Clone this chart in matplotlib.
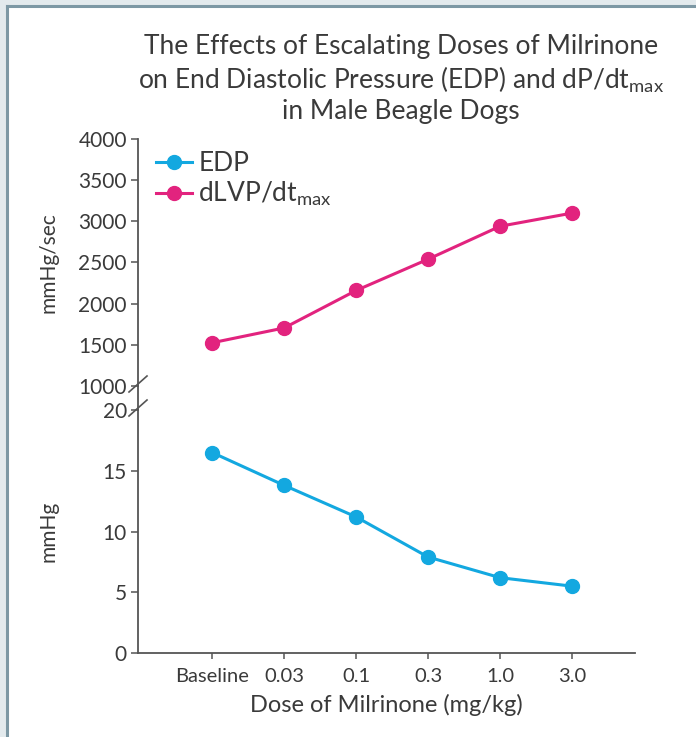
import matplotlib.pyplot as plt
from matplotlib.lines import Line2D
from matplotlib.patches import Rectangle

plt.rcParams['font.family'] = ['Lato', 'DejaVu Sans']
plt.rcParams['mathtext.fontset'] = 'custom'
plt.rcParams['mathtext.rm'] = 'Lato'

doses = ["Baseline", "0.03", "0.1", "0.3", "1.0", "3.0"]
edp = [16.5, 13.8, 11.2, 7.9, 6.2, 5.5]
dlvp = [1525, 1705, 2160, 2540, 2940, 3100]
top_ticks = [1000, 1500, 2000, 2500, 3000, 3500, 4000]
bottom_ticks = [0, 5, 10, 15, 20]

edp_color = "#13a8e0"
dlvp_color = "#e2237e"
text_color = "#3a3a3a"
axis_color = "#555555"

W, H = 696, 737
fig = plt.figure(figsize=(W / 100, H / 100), dpi=100)
fig.patch.set_facecolor("white")

# frame of the panel: grey band + blue-grey rule on top and left
fig.add_artist(Rectangle((0, 1 - 5 / H), 1, 5 / H, transform=fig.transFigure,
                         facecolor="#e3eaed", edgecolor="none"))
fig.add_artist(Rectangle((0, 0), 6 / W, 1, transform=fig.transFigure,
                         facecolor="#e3eaed", edgecolor="none"))
fig.add_artist(Line2D([6.5 / W, 1], [1 - 6 / H, 1 - 6 / H], transform=fig.transFigure,
                      color="#7d98a4", lw=2.2))
fig.add_artist(Line2D([7 / W, 7 / W], [0, 1 - 6 / H], transform=fig.transFigure,
                      color="#7d98a4", lw=2.2))

left = 138 / W
width = 497 / W
ax_top = fig.add_axes([left, 1 - 386 / H, width, 247 / H])
ax_bot = fig.add_axes([left, 1 - 653 / H, width, 243 / H])

x = list(range(len(doses)))
xlim = (-1.03, 5.875)

for ax in (ax_top, ax_bot):
    ax.set_facecolor("none")
    ax.set_xlim(*xlim)
    for s in ("top", "right"):
        ax.spines[s].set_visible(False)
    ax.spines["left"].set_color(axis_color)
    ax.spines["left"].set_linewidth(1.3)
    ax.tick_params(axis="y", direction="out", length=5, width=1.1,
                   colors=axis_color, labelcolor=text_color, labelsize=15, pad=3)

ax_top.spines["bottom"].set_visible(False)
ax_top.set_xticks([])
ax_top.set_ylim(1000, 4000)
ax_top.set_yticks(top_ticks)

ax_bot.set_ylim(0, 20)
ax_bot.set_yticks(bottom_ticks)
ax_bot.spines["bottom"].set_color(axis_color)
ax_bot.spines["bottom"].set_linewidth(1.3)
ax_bot.set_xticks(x)
ax_bot.set_xticklabels(doses)
ax_bot.tick_params(axis="x", direction="out", length=4, width=1.1,
                   colors=axis_color, labelcolor=text_color, labelsize=14.5, pad=7)

ax_top.plot(x, dlvp, color=dlvp_color, lw=2.2, marker="o", ms=10, clip_on=False)
ax_bot.plot(x, edp, color=edp_color, lw=2.2, marker="o", ms=10, clip_on=False)

ax_top.set_ylabel("mmHg/sec", fontsize=15, color=text_color)
ax_bot.set_ylabel("mmHg", fontsize=15, color=text_color)
ax_top.yaxis.set_label_coords(-0.16, 0.5)
ax_bot.yaxis.set_label_coords(-0.16, 0.5)
ax_bot.set_xlabel("Dose of Milrinone (mg/kg)", fontsize=17, color=text_color, labelpad=6)

# legend
handles = [Line2D([], [], color=edp_color, lw=2.2, marker="o", ms=10),
           Line2D([], [], color=dlvp_color, lw=2.2, marker="o", ms=10)]
ax_top.legend(handles, ["EDP", r"dLVP/dt$_\mathregular{max}$"], loc="upper left",
              bbox_to_anchor=(0.015, 0.995), frameon=False, fontsize=19,
              handlelength=1.35, handletextpad=0.25, labelspacing=0.15,
              labelcolor=text_color, borderaxespad=0)

# continuous spine across the break + break marks
fig.add_artist(Line2D([left, left], [1 - 410 / H, 1 - 386 / H], transform=fig.transFigure,
                      color=axis_color, lw=1.3))
for yc in (384, 408):
    fig.add_artist(Line2D([(left * W - 9) / W, (left * W + 9) / W],
                          [1 - (yc + 8) / H, 1 - (yc - 8) / H],
                          transform=fig.transFigure, color=axis_color, lw=1.2))

fig.text(401 / W, 1 - 79 / H,
         "The Effects of Escalating Doses of Milrinone\n"
         r"on End Diastolic Pressure (EDP) and dP/dt$_\mathregular{max}$" "\n"
         "in Male Beagle Dogs",
         ha="center", va="center", fontsize=19, color=text_color, linespacing=1.2)

fig.savefig("out.png", dpi=100)
